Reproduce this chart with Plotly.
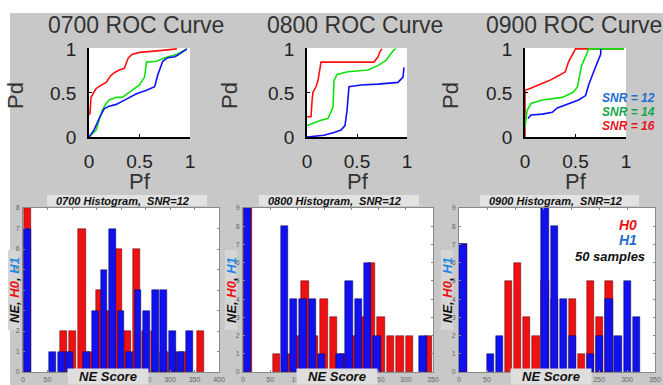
import plotly.graph_objects as go

W, H = 663, 385

# ---------------- ROC data (Pf, Pd) ----------------
hours = ["0700", "0800", "0900"]
snr_labels = ["SNR = 12", "SNR = 14", "SNR = 16"]

# 0700
pf_0700_snr16 = [0, 0.01, 0.02, 0.05, 0.07, 0.11, 0.17, 0.21, 0.25, 0.30, 0.35, 0.37, 0.39, 0.43, 0.50, 0.70, 0.80, 0.87]
pd_0700_snr16 = [0.25, 0.27, 0.45, 0.52, 0.55, 0.58, 0.62, 0.69, 0.73, 0.76, 0.78, 0.84, 0.90, 0.94, 0.96, 0.98, 0.99, 1.0]
pf_0700_snr14 = [0, 0.03, 0.07, 0.10, 0.13, 0.17, 0.20, 0.27, 0.33, 0.40, 0.50, 0.55, 0.57, 0.67, 0.73, 0.87, 0.97]
pd_0700_snr14 = [0, 0.03, 0.08, 0.19, 0.30, 0.38, 0.42, 0.45, 0.45, 0.51, 0.59, 0.68, 0.85, 0.86, 0.89, 0.94, 1.0]
pf_0700_snr12 = [0, 0.05, 0.10, 0.15, 0.20, 0.27, 0.37, 0.47, 0.57, 0.65, 0.68, 0.70, 0.73, 0.78, 0.85, 0.88, 0.92, 0.97]
pd_0700_snr12 = [0, 0.08, 0.21, 0.32, 0.35, 0.37, 0.43, 0.49, 0.53, 0.57, 0.70, 0.77, 0.86, 0.90, 0.91, 0.93, 0.96, 1.0]

# 0800
pf_0800_snr16 = [0, 0.04, 0.05, 0.06, 0.09, 0.11, 0.14, 0.67, 0.71, 0.73, 0.75]
pd_0800_snr16 = [0.23, 0.23, 0.40, 0.51, 0.57, 0.64, 0.85, 0.85, 0.91, 0.97, 1.0]
pf_0800_snr14 = [0, 0.14, 0.21, 0.26, 0.27, 0.30, 0.41, 0.61, 0.71, 0.79, 0.87, 0.89]
pd_0800_snr14 = [0.13, 0.19, 0.21, 0.34, 0.64, 0.71, 0.74, 0.76, 0.81, 0.87, 0.99, 1.0]
pf_0800_snr12 = [0, 0.07, 0.17, 0.27, 0.34, 0.38, 0.40, 0.42, 0.54, 0.71, 0.91, 0.96, 0.97]
pd_0800_snr12 = [0, 0.01, 0.02, 0.05, 0.08, 0.13, 0.30, 0.57, 0.59, 0.60, 0.62, 0.68, 0.79]

# 0900
pf_0900_snr16 = [0, 0, 0.05, 0.14, 0.24, 0.34, 0.40, 0.43, 0.47, 0.50, 0.98]
pd_0900_snr16 = [0, 0.53, 0.55, 0.59, 0.64, 0.70, 0.74, 0.85, 0.94, 1.0, 1.0]
pf_0900_snr14 = [0, 0.02, 0.06, 0.17, 0.37, 0.48, 0.52, 0.56, 0.61, 0.63, 0.98]
pd_0900_snr14 = [0.11, 0.30, 0.38, 0.42, 0.45, 0.51, 0.57, 0.81, 0.94, 1.0, 1.0]
pf_0900_snr12 = [0.03, 0.06, 0.17, 0.27, 0.32, 0.43, 0.53, 0.60, 0.63, 0.68, 0.71, 0.75, 0.75]
pd_0900_snr12 = [0.21, 0.25, 0.26, 0.28, 0.33, 0.38, 0.42, 0.47, 0.59, 0.74, 0.83, 0.94, 1.0]

roc_ticks = [0, 0.5, 1]
roc_ticktext = ["0", "0.5", "1"]

# ---------------- Histogram data (NE score bins, counts) ----------------
h0_bins_0700 = [8.6, 27.2, 45.8, 64.4, 83.0, 101.6, 120.2, 138.8, 157.4, 176.0, 194.6, 213.2, 231.8, 250.4, 269.0, 287.6, 306.2, 324.8, 343.4, 362.0]
h0_counts_0700 = [8, 0, 0, 0, 2, 2, 7, 1, 4, 3, 6, 2, 6, 2, 2, 1, 1, 1, 0, 2]
h1_bins_0700 = [8.6, 26.0, 43.4, 60.8, 78.2, 95.6, 113.0, 130.4, 147.8, 165.2, 182.6, 200.0, 217.4, 234.8, 252.2, 269.6, 287.0, 304.4, 321.8, 339.2]
h1_counts_0700 = [7, 0, 0, 1, 1, 1, 0, 1, 3, 5, 7, 3, 1, 4, 3, 4, 4, 2, 1, 2]

h0_bins_0800 = [9.5, 27, 44.5, 62, 79.5, 97, 114.5, 132, 149.5, 167, 184.5, 202, 219.5, 237, 254.5, 272, 289.5, 307, 324.5, 342]
h0_counts_0800 = [9, 0, 0, 1, 1, 2, 5, 2, 4, 3, 1, 2, 3, 6, 3, 2, 2, 2, 0, 2]
h1_bins_0800 = [8.5, 25.5, 42.5, 59.5, 76.5, 93.5, 110.5, 127.5, 144.5, 161.5, 178.5, 195.5, 212.5, 229.5, 246.5, 263.5, 280.5, 297.5, 314.5, 331.5]
h1_counts_0800 = [9, 0, 0, 0, 8, 4, 4, 4, 1, 0, 1, 5, 4, 6, 2, 0, 0, 0, 0, 2]

h0_bins_0900 = [7, 23.3, 39.6, 55.9, 72.2, 88.5, 104.8, 121.1, 137.4, 153.7, 170, 186.3, 202.6, 218.9, 235.2, 251.5, 267.8, 284.1, 300.4, 316.7]
h0_counts_0900 = [7, 0, 0, 0, 0, 5, 6, 3, 2, 5, 4, 0, 4, 1, 5, 3, 5, 0, 0, 0]
h1_bins_0900 = h0_bins_0900
h1_counts_0900 = [7, 0, 0, 1, 2, 0, 0, 0, 0, 9, 8, 4, 2, 0, 1, 2, 4, 2, 5, 3]

hist_xticks_0700 = [0, 50, 100, 150, 200, 250, 300, 350, 400]
hist_xticks_0800 = [0, 50, 100, 150, 200, 250, 300, 350]
hist_xticks_0900 = [0, 50, 100, 150, 200, 250, 300, 350]
hist_yticks_0700 = [0, 1, 2, 3, 4, 5, 6, 7, 8]
hist_yticks_0800 = [0, 1, 2, 3, 4, 5, 6, 7, 8, 9]
hist_yticks_0900 = [0, 1, 2, 3, 4, 5, 6, 7, 8, 9]

# ---------------- styling ----------------
GRAY = "#c8c8c8"
RED = "#ff1010"
GREEN = "#10e010"
BLUE = "#1010ff"
BAR_RED = "#ee1111"
BAR_BLUE = "#1111ee"
FONT = "Liberation Sans, Arial, sans-serif"


def px(x):
    return x / W


def py(y):
    return 1 - y / H


fig = go.Figure()

roc_sets = [
    [(pf_0700_snr16, pd_0700_snr16, RED), (pf_0700_snr14, pd_0700_snr14, GREEN), (pf_0700_snr12, pd_0700_snr12, BLUE)],
    [(pf_0800_snr16, pd_0800_snr16, RED), (pf_0800_snr14, pd_0800_snr14, GREEN), (pf_0800_snr12, pd_0800_snr12, BLUE)],
    [(pf_0900_snr16, pd_0900_snr16, RED), (pf_0900_snr14, pd_0900_snr14, GREEN), (pf_0900_snr12, pd_0900_snr12, BLUE)],
]
roc_x_px = [(89, 190), (307, 407), (525, 626)]
roc_y_px = (48, 137)

for i, curves in enumerate(roc_sets):
    ax = "" if i == 0 else str(i + 1)
    for pf, pdv, col in curves:
        fig.add_trace(go.Scatter(x=pf, y=pdv, mode="lines", line=dict(color=col, width=1.6),
                                 xaxis="x" + ax, yaxis="y" + ax, showlegend=False, hoverinfo="skip"))
    x0, x1 = roc_x_px[i]
    common = dict(showgrid=False, zeroline=False, showline=True, linecolor="black", linewidth=1.5,
                  ticks="inside", ticklen=3, tickcolor="black", tickvals=roc_ticks, ticktext=roc_ticktext,
                  tickfont=dict(family=FONT, size=19, color="#222"), fixedrange=True, automargin=False)
    fig.update_layout(**{
        "xaxis" + ax: dict(domain=[px(x0), px(x1)], range=[0, 1], anchor="y" + ax,
                           ticklabelstandoff=6, **common),
        "yaxis" + ax: dict(domain=[py(roc_y_px[1]), py(roc_y_px[0])], range=[0, 1.01], anchor="x" + ax,
                           ticklabelstandoff=7, **common),
    })

hist_sets = [
    (h0_bins_0700, h0_counts_0700, h1_bins_0700, h1_counts_0700, hist_xticks_0700, hist_yticks_0700),
    (h0_bins_0800, h0_counts_0800, h1_bins_0800, h1_counts_0800, hist_xticks_0800, hist_yticks_0800),
    (h0_bins_0900, h0_counts_0900, h1_bins_0900, h1_counts_0900, hist_xticks_0900, hist_yticks_0900),
]
hist_x_px = [(23, 219), (243, 433), (459, 655)]
hist_y_px = (208, 372)

for i, (b0, c0, b1, c1, xt, yt) in enumerate(hist_sets):
    ax = str(i + 4)
    lw0 = [0.5 if c > 0 else 0 for c in c0]
    lw1 = [0.5 if c > 0 else 0 for c in c1]
    fig.add_trace(go.Bar(x=b0, y=c0, width=0.8 * (b0[1] - b0[0]),
                         marker=dict(color=BAR_RED, line=dict(color="#550000", width=lw0)),
                         xaxis="x" + ax, yaxis="y" + ax, showlegend=False, hoverinfo="skip"))
    fig.add_trace(go.Bar(x=b1, y=c1, width=0.8 * (b1[1] - b1[0]),
                         marker=dict(color=BAR_BLUE, line=dict(color="#000055", width=lw1)),
                         xaxis="x" + ax, yaxis="y" + ax, showlegend=False, hoverinfo="skip"))
    x0, x1 = hist_x_px[i]
    common = dict(showgrid=False, zeroline=False, showline=True, linecolor="#8a8a8a", linewidth=1, mirror="ticks",
                  ticks="inside", ticklen=2, tickcolor="#8a8a8a",
                  tickfont=dict(family=FONT, size=7, color="#666"), fixedrange=True, automargin=False)
    fig.update_layout(**{
        "xaxis" + ax: dict(domain=[px(x0), px(x1)], range=[0, xt[-1]], anchor="y" + ax, tickvals=xt,
                           ticklabelstandoff=1, **common),
        "yaxis" + ax: dict(domain=[py(hist_y_px[1]), py(hist_y_px[0])], range=[0, yt[-1]], anchor="x" + ax, tickvals=yt,
                           ticklabelstandoff=1, **common),
    })

shapes = [
    dict(type="rect", xref="paper", yref="paper", x0=0, x1=1, y0=py(13), y1=1, fillcolor="white", line_width=0, layer="below"),
    dict(type="rect", xref="paper", yref="paper", x0=0, x1=px(10), y0=0, y1=1, fillcolor="white", line_width=0, layer="below"),
]
annotations = []

# ROC titles and axis labels
roc_title_cx = [136, 355, 574]
pd_cx = [16, 230, 451]
pf_cx = [140, 358, 576]
for i, hr in enumerate(hours):
    annotations.append(dict(text=f"{hr} ROC Curve", x=px(roc_title_cx[i]), y=py(25), xref="paper", yref="paper",
                            showarrow=False, xanchor="center", yanchor="middle",
                            font=dict(family=FONT, size=23, color="#333")))
    annotations.append(dict(text="Pd", x=px(pd_cx[i]), y=py(96), xref="paper", yref="paper", textangle=-90,
                            showarrow=False, xanchor="center", yanchor="middle",
                            font=dict(family=FONT, size=22, color="#333")))
    annotations.append(dict(text="Pf", x=px(pf_cx[i]), y=py(182), xref="paper", yref="paper",
                            showarrow=False, xanchor="center", yanchor="middle",
                            font=dict(family=FONT, size=22, color="#333")))

# ROC legend (0900 panel)
legend_cols = ["#1a6fd0", "#16a64a", "#e8141e"]
for j, lab in enumerate(snr_labels):
    annotations.append(dict(text=f"<b><i>{lab}</i></b>", x=px(628), y=py(98 + 14 * j), xref="paper", yref="paper",
                            showarrow=False, xanchor="center", yanchor="middle",
                            font=dict(family=FONT, size=12, color=legend_cols[j])))

# Histogram titles, axis labels
hist_title_cx = [122, 334, 555]
hist_box = [(47, 207), (259, 419), (480, 639)]
ylab_cx = [14, 231, 447]
xlab_cx = [108, 337, 551]
for i, hr in enumerate(hours):
    bx0, bx1 = hist_box[i]
    shapes.append(dict(type="rect", xref="paper", yref="paper", x0=px(bx0), x1=px(bx1), y0=py(206), y1=py(195),
                       fillcolor="#e2e2e2", line_width=0, layer="below"))
    annotations.append(dict(text=f"<b><i>{hr} Histogram,  SNR=12</i></b>", x=px(hist_title_cx[i]), y=py(200.5),
                            xref="paper", yref="paper", showarrow=False, xanchor="center", yanchor="middle",
                            font=dict(family=FONT, size=11, color="#111")))
    shapes.append(dict(type="rect", xref="paper", yref="paper", x0=px(ylab_cx[i] - 6), x1=px(ylab_cx[i] + 6),
                       y0=py(330), y1=py(250), fillcolor="#d6d6d6", line_width=0, layer="below"))
    annotations.append(dict(text="<b><i>NE, <span style='color:#ee1111'>H0</span>, <span style='color:#1a8ae6'>H1</span></i></b>",
                            x=px(ylab_cx[i]), y=py(290), xref="paper", yref="paper", textangle=-90,
                            showarrow=False, xanchor="center", yanchor="middle",
                            font=dict(family=FONT, size=13, color="#111")))
    annotations.append(dict(text="<b><i>NE Score</i></b>", x=px(xlab_cx[i]), y=0, xref="paper", yref="paper",
                            showarrow=False, xanchor="center", yanchor="bottom", bgcolor="#dedede",
                            borderpad=0, width=80,
                            font=dict(family=FONT, size=13, color="#111")))

# 0900 histogram annotations
annotations.append(dict(text="<b><i>H0</i></b>", x=px(628), y=py(225), xref="paper", yref="paper", showarrow=False,
                        xanchor="center", yanchor="middle", font=dict(family=FONT, size=14, color="#ee1111")))
annotations.append(dict(text="<b><i>H1</i></b>", x=px(628), y=py(240), xref="paper", yref="paper", showarrow=False,
                        xanchor="center", yanchor="middle", font=dict(family=FONT, size=14, color="#1a6fd0")))
annotations.append(dict(text="<b><i>50 samples</i></b>", x=px(610), y=py(256), xref="paper", yref="paper", showarrow=False,
                        xanchor="center", yanchor="middle", font=dict(family=FONT, size=13, color="#111")))

fig.update_layout(
    template="none",
    width=W, height=H, margin=dict(l=0, r=0, t=0, b=0, pad=0),
    paper_bgcolor=GRAY, plot_bgcolor="white",
    barmode="overlay", bargap=0,
    shapes=shapes, annotations=annotations,
    showlegend=False,
)

fig.write_html("out.html", config={"displayModeBar": False},
               post_script="document.body.style.margin='0';document.body.style.padding='0';document.body.style.overflow='hidden';")
